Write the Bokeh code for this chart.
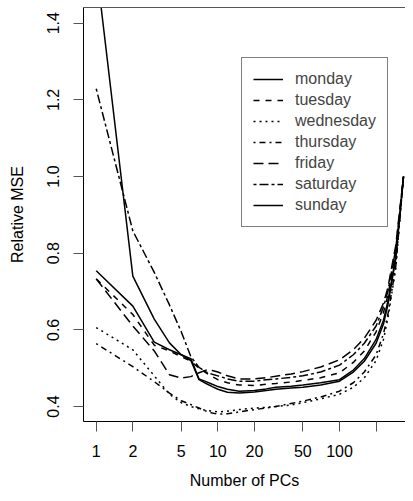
from bokeh.plotting import figure
from bokeh.models import (LinearAxis, FixedTicker, Legend, LegendItem, Range1d)
from bokeh.embed import file_html
from bokeh.resources import INLINE

# ---- data ----
n_pcs = [1, 2, 3, 4, 5, 6, 7, 8, 9, 10, 12, 15, 20, 25, 30, 40, 50, 70, 100,
         130, 160, 200, 230, 250, 290, 336]

monday = [0.754, 0.662, 0.568, 0.548, 0.535, 0.525, 0.472, 0.465, 0.458, 0.452,
          0.445, 0.440, 0.442, 0.446, 0.450, 0.453, 0.456, 0.462, 0.470, 0.495,
          0.525, 0.575, 0.625, 0.675, 0.790, 1.000]
tuesday = [0.733, 0.640, 0.560, 0.545, 0.530, 0.518, 0.500, 0.488, 0.478, 0.470,
           0.462, 0.456, 0.455, 0.458, 0.460, 0.464, 0.468, 0.475, 0.488, 0.515,
           0.545, 0.595, 0.645, 0.690, 0.800, 1.000]
wednesday = [0.606, 0.548, 0.480, 0.432, 0.410, 0.400, 0.394, 0.390, 0.388, 0.386,
             0.388, 0.392, 0.396, 0.398, 0.400, 0.404, 0.410, 0.420, 0.432, 0.450,
             0.475, 0.520, 0.575, 0.630, 0.760, 1.000]
thursday = [0.564, 0.504, 0.465, 0.435, 0.415, 0.405, 0.396, 0.388, 0.383, 0.380,
            0.381, 0.386, 0.392, 0.396, 0.400, 0.408, 0.414, 0.425, 0.440, 0.462,
            0.490, 0.535, 0.590, 0.640, 0.765, 1.000]
friday = [0.733, 0.610, 0.545, 0.483, 0.474, 0.478, 0.488, 0.495, 0.494, 0.490,
          0.480, 0.472, 0.472, 0.475, 0.479, 0.485, 0.491, 0.503, 0.522, 0.548,
          0.578, 0.625, 0.670, 0.710, 0.820, 1.000]
saturday = [1.229, 0.858, 0.750, 0.665, 0.595, 0.530, 0.502, 0.490, 0.484, 0.480,
            0.472, 0.466, 0.466, 0.470, 0.472, 0.476, 0.480, 0.490, 0.508, 0.535,
            0.565, 0.610, 0.660, 0.700, 0.810, 1.000]
sunday = [1.550, 0.740, 0.628, 0.566, 0.535, 0.520, 0.470, 0.460, 0.452, 0.445,
          0.437, 0.435, 0.438, 0.442, 0.445, 0.448, 0.450, 0.456, 0.466, 0.490,
          0.518, 0.565, 0.615, 0.665, 0.785, 1.000]

day_names = ["monday", "tuesday", "wednesday", "thursday", "friday", "saturday", "sunday"]
series = [monday, tuesday, wednesday, thursday, friday, saturday, sunday]

x_ticks = [1, 2, 5, 10, 20, 50, 100, 200]
x_tick_labels = ["1", "2", "5", "10", "20", "50", "100", ""]
y_ticks = [0.4, 0.6, 0.8, 1.0, 1.2, 1.4]
y_tick_labels = ["0.4", "0.6", "0.8", "1.0", "1.2", "1.4"]

# ---- styles ----
dashes = ["solid", "6 6", "2 4", "2 4 6 4", "10 5", "3 3 9 3", "solid"]
FONT = "Liberation Sans"

p = figure(width=405, height=493, x_axis_type="log",
           x_range=Range1d(0.786, 348.9), y_range=Range1d(0.3609, 1.441),
           output_backend="svg", toolbar_location=None,
           min_border_left=83, min_border_right=0, min_border_top=7,
           min_border_bottom=72)
p.background_fill_color = "white"
p.border_fill_color = "white"
p.outline_line_color = None
p.grid.visible = False

renderers = []
for ys, dash in zip(series, dashes):
    r = p.line(n_pcs, ys, line_color="black", line_width=1.5, line_dash=dash)
    renderers.append(r)

# axes
xa = p.xaxis[0]
xa.ticker = FixedTicker(ticks=x_ticks)
xa.major_label_overrides = {t: l for t, l in zip(x_ticks, x_tick_labels)}
xa.minor_tick_line_color = None
xa.major_tick_in = 0
xa.major_tick_out = 10
xa.major_label_standoff = 13
xa.axis_label = "Number of PCs"
xa.axis_label_standoff = 12

ya = p.yaxis[0]
ya.ticker = FixedTicker(ticks=y_ticks)
ya.major_label_overrides = {t: l for t, l in zip(y_ticks, y_tick_labels)}
ya.minor_tick_line_color = None
ya.major_tick_in = 0
ya.major_tick_out = 10
ya.major_label_standoff = 14
ya.major_label_orientation = "vertical"
ya.axis_label = "Relative MSE"
ya.axis_label_standoff = 19

for ax in (xa, ya):
    ax.axis_line_color = "black"
    ax.major_tick_line_color = "#555555"
    ax.major_label_text_font = FONT
    ax.major_label_text_font_size = "16px"
    ax.major_label_text_color = "black"
    ax.axis_label_text_font = FONT
    ax.axis_label_text_font_size = "16px"
    ax.axis_label_text_font_style = "normal"
    ax.axis_label_text_color = "black"

top = LinearAxis(ticker=FixedTicker(ticks=[]), axis_line_color="#555555",
                 major_tick_line_color=None, minor_tick_line_color=None,
                 major_label_text_font_size="0px")
p.add_layout(top, "above")

legend = Legend(items=[LegendItem(label=n, renderers=[r]) for n, r in zip(day_names, renderers)],
                location=(158, 194))
legend.border_line_color = "black"
legend.border_line_width = 1
legend.background_fill_color = "white"
legend.background_fill_alpha = 1
legend.padding = 11
legend.margin = 0
legend.spacing = 1
legend.glyph_width = 30
legend.glyph_height = 20
legend.label_height = 20
legend.label_standoff = 12
legend.label_text_font = FONT
legend.label_text_font_size = "16px"
legend.label_text_baseline = "middle"
p.add_layout(legend, "center")

open("out.html", "w").write(file_html(p, INLINE))
